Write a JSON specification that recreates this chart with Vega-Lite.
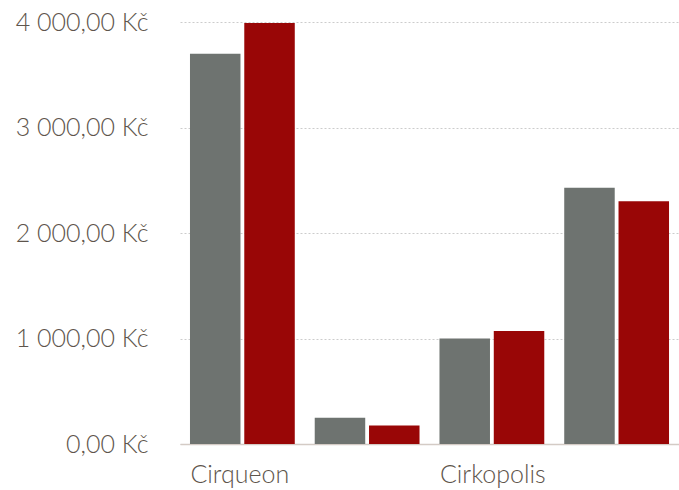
{
  "$schema": "https://vega.github.io/schema/vega-lite/v6.json",
  "autosize": "none",
  "width": 499,
  "height": 422,
  "padding": {"left": 180, "top": 22, "right": 0, "bottom": 46},
  "background": "#ffffff",
  "config": {
    "locale": {"number": {"decimal": ",", "thousands": "\u00a0", "grouping": [3], "currency": ["", "\u00a0Kč"]}},
    "view": {"stroke": null},
    "font": "Lato"
  },
  "data": {"values": [
    {"show": "Cirqueon", "series": "A", "value": 3700},
    {"show": "Cirqueon", "series": "B", "value": 3990},
    {"show": "Skupina 2", "series": "A", "value": 250},
    {"show": "Skupina 2", "series": "B", "value": 175},
    {"show": "Cirkopolis", "series": "A", "value": 1000},
    {"show": "Cirkopolis", "series": "B", "value": 1070},
    {"show": "Skupina 4", "series": "A", "value": 2430},
    {"show": "Skupina 4", "series": "B", "value": 2300}
  ]},
  "mark": {"type": "bar"},
  "encoding": {
    "x": {
      "field": "show", "type": "nominal", "sort": null, "title": null,
      "scale": {"paddingInner": 0.16, "paddingOuter": 0.08},
      "axis": {
        "values": ["Cirqueon", "Cirkopolis"],
        "labelAlign": "left", "labelAngle": 0, "labelOffset": -52,
        "ticks": false, "domainColor": "#d4cbc5", "domainWidth": 1.5,
        "labelFontSize": 25, "labelColor": "#5e554c", "labelPadding": 18,
        "labelFont": "Lato", "labelFontWeight": 300
      }
    },
    "xOffset": {"field": "series", "type": "nominal", "scale": {"paddingInner": 0.07}},
    "y": {
      "field": "value", "type": "quantitative", "title": null,
      "scale": {"domain": [0, 4000], "nice": false},
      "axis": {
        "values": [0, 1000, 2000, 3000, 4000], "format": "$,.2f",
        "ticks": false, "domain": false, "labelPadding": 32,
        "labelFontSize": 25, "labelColor": "#5e554c", "labelFont": "Lato", "labelFontWeight": 300,
        "gridColor": "#cccccc", "gridDash": [2, 2], "gridWidth": 1
      }
    },
    "color": {
      "field": "series", "type": "nominal", "legend": null,
      "scale": {"domain": ["A", "B"], "range": ["#6e7370", "#990606"]}
    }
  }
}
